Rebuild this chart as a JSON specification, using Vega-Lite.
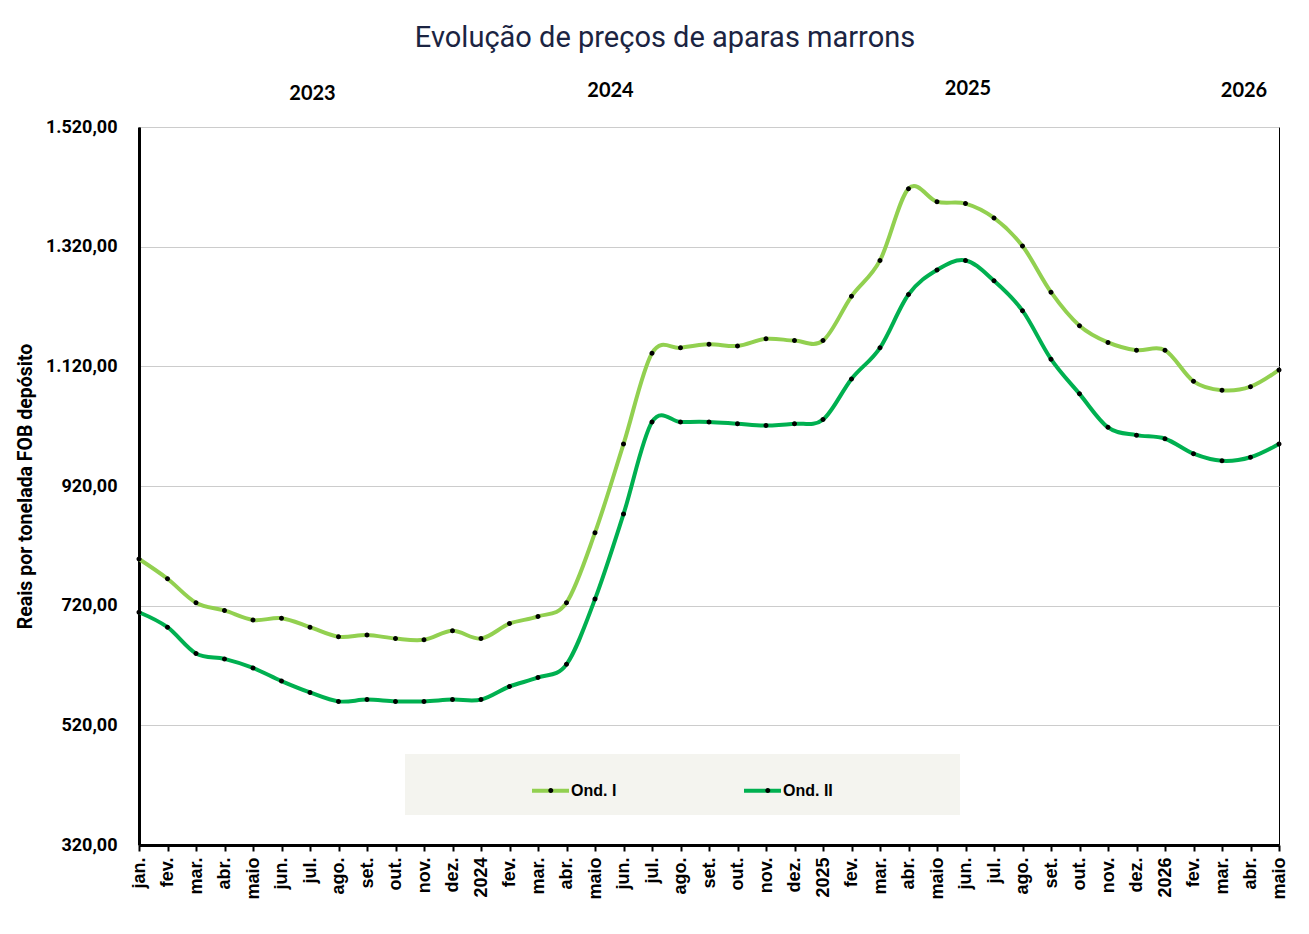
{
  "$schema": "https://vega.github.io/schema/vega-lite/v6.json",
  "width": 1140,
  "height": 718,
  "autosize": {"type": "none"},
  "padding": {"left": 139, "top": 127, "right": 30, "bottom": 89},
  "background": "white",
  "config": {
    "locale": {"number": {"decimal": ",", "thousands": ".", "grouping": [3], "currency": ["R$", ""]}},
    "view": {"stroke": "black", "strokeWidth": 1}
  },
  "title": {
    "text": "Evolução de preços de aparas marrons",
    "font": "Roboto",
    "fontSize": 29,
    "fontWeight": "normal",
    "color": "#1b2442",
    "anchor": "middle",
    "dx": -44,
    "offset": 25
  },
  "data": {
    "values": [
      {"mes": "2023-01", "serie": "Ond. I", "valor": 798},
      {"mes": "2023-02", "serie": "Ond. I", "valor": 765},
      {"mes": "2023-03", "serie": "Ond. I", "valor": 725},
      {"mes": "2023-04", "serie": "Ond. I", "valor": 712},
      {"mes": "2023-05", "serie": "Ond. I", "valor": 696},
      {"mes": "2023-06", "serie": "Ond. I", "valor": 699},
      {"mes": "2023-07", "serie": "Ond. I", "valor": 684},
      {"mes": "2023-08", "serie": "Ond. I", "valor": 668},
      {"mes": "2023-09", "serie": "Ond. I", "valor": 671},
      {"mes": "2023-10", "serie": "Ond. I", "valor": 665},
      {"mes": "2023-11", "serie": "Ond. I", "valor": 663},
      {"mes": "2023-12", "serie": "Ond. I", "valor": 678},
      {"mes": "2024-01", "serie": "Ond. I", "valor": 665},
      {"mes": "2024-02", "serie": "Ond. I", "valor": 690},
      {"mes": "2024-03", "serie": "Ond. I", "valor": 702},
      {"mes": "2024-04", "serie": "Ond. I", "valor": 725},
      {"mes": "2024-05", "serie": "Ond. I", "valor": 842},
      {"mes": "2024-06", "serie": "Ond. I", "valor": 990},
      {"mes": "2024-07", "serie": "Ond. I", "valor": 1142},
      {"mes": "2024-08", "serie": "Ond. I", "valor": 1151},
      {"mes": "2024-09", "serie": "Ond. I", "valor": 1157},
      {"mes": "2024-10", "serie": "Ond. I", "valor": 1154},
      {"mes": "2024-11", "serie": "Ond. I", "valor": 1166},
      {"mes": "2024-12", "serie": "Ond. I", "valor": 1163},
      {"mes": "2025-01", "serie": "Ond. I", "valor": 1163},
      {"mes": "2025-02", "serie": "Ond. I", "valor": 1237},
      {"mes": "2025-03", "serie": "Ond. I", "valor": 1297},
      {"mes": "2025-04", "serie": "Ond. I", "valor": 1417},
      {"mes": "2025-05", "serie": "Ond. I", "valor": 1395},
      {"mes": "2025-06", "serie": "Ond. I", "valor": 1392},
      {"mes": "2025-07", "serie": "Ond. I", "valor": 1368},
      {"mes": "2025-08", "serie": "Ond. I", "valor": 1321},
      {"mes": "2025-09", "serie": "Ond. I", "valor": 1244},
      {"mes": "2025-10", "serie": "Ond. I", "valor": 1188},
      {"mes": "2025-11", "serie": "Ond. I", "valor": 1160},
      {"mes": "2025-12", "serie": "Ond. I", "valor": 1147},
      {"mes": "2026-01", "serie": "Ond. I", "valor": 1147},
      {"mes": "2026-02", "serie": "Ond. I", "valor": 1095},
      {"mes": "2026-03", "serie": "Ond. I", "valor": 1080},
      {"mes": "2026-04", "serie": "Ond. I", "valor": 1086},
      {"mes": "2026-05", "serie": "Ond. I", "valor": 1114},
      {"mes": "2023-01", "serie": "Ond. II", "valor": 709},
      {"mes": "2023-02", "serie": "Ond. II", "valor": 684},
      {"mes": "2023-03", "serie": "Ond. II", "valor": 640},
      {"mes": "2023-04", "serie": "Ond. II", "valor": 631},
      {"mes": "2023-05", "serie": "Ond. II", "valor": 616},
      {"mes": "2023-06", "serie": "Ond. II", "valor": 594},
      {"mes": "2023-07", "serie": "Ond. II", "valor": 575},
      {"mes": "2023-08", "serie": "Ond. II", "valor": 560},
      {"mes": "2023-09", "serie": "Ond. II", "valor": 563},
      {"mes": "2023-10", "serie": "Ond. II", "valor": 560},
      {"mes": "2023-11", "serie": "Ond. II", "valor": 560},
      {"mes": "2023-12", "serie": "Ond. II", "valor": 563},
      {"mes": "2024-01", "serie": "Ond. II", "valor": 563},
      {"mes": "2024-02", "serie": "Ond. II", "valor": 585},
      {"mes": "2024-03", "serie": "Ond. II", "valor": 600},
      {"mes": "2024-04", "serie": "Ond. II", "valor": 622},
      {"mes": "2024-05", "serie": "Ond. II", "valor": 731},
      {"mes": "2024-06", "serie": "Ond. II", "valor": 873},
      {"mes": "2024-07", "serie": "Ond. II", "valor": 1027},
      {"mes": "2024-08", "serie": "Ond. II", "valor": 1027},
      {"mes": "2024-09", "serie": "Ond. II", "valor": 1027},
      {"mes": "2024-10", "serie": "Ond. II", "valor": 1024},
      {"mes": "2024-11", "serie": "Ond. II", "valor": 1021},
      {"mes": "2024-12", "serie": "Ond. II", "valor": 1024},
      {"mes": "2025-01", "serie": "Ond. II", "valor": 1031},
      {"mes": "2025-02", "serie": "Ond. II", "valor": 1099},
      {"mes": "2025-03", "serie": "Ond. II", "valor": 1151},
      {"mes": "2025-04", "serie": "Ond. II", "valor": 1240},
      {"mes": "2025-05", "serie": "Ond. II", "valor": 1281},
      {"mes": "2025-06", "serie": "Ond. II", "valor": 1297},
      {"mes": "2025-07", "serie": "Ond. II", "valor": 1263},
      {"mes": "2025-08", "serie": "Ond. II", "valor": 1213},
      {"mes": "2025-09", "serie": "Ond. II", "valor": 1132},
      {"mes": "2025-10", "serie": "Ond. II", "valor": 1074},
      {"mes": "2025-11", "serie": "Ond. II", "valor": 1018},
      {"mes": "2025-12", "serie": "Ond. II", "valor": 1005},
      {"mes": "2026-01", "serie": "Ond. II", "valor": 999},
      {"mes": "2026-02", "serie": "Ond. II", "valor": 974},
      {"mes": "2026-03", "serie": "Ond. II", "valor": 962},
      {"mes": "2026-04", "serie": "Ond. II", "valor": 968},
      {"mes": "2026-05", "serie": "Ond. II", "valor": 990}
    ]
  },
  "layer": [
    {
      "mark": {"type": "line", "interpolate": "cardinal", "strokeWidth": 4},
      "encoding": {
        "x": {
          "field": "mes",
          "type": "ordinal",
          "scale": {"type": "point", "padding": 0},
          "axis": {
            "orient": "bottom",
            "title": null,
            "labelAngle": 270,
            "labelOverlap": false,
            "labelFont": "Liberation Sans",
            "labelFontSize": 18,
            "labelFontWeight": "bold",
            "labelColor": "black",
            "labelPadding": 6,
            "ticks": true,
            "tickSize": 6,
            "tickWidth": 2,
            "tickColor": "black",
            "domainColor": "black",
            "domainWidth": 3,
            "grid": false,
            "labelExpr": "datum.value == '2023-01' ? 'jan.' : slice(datum.value, 5) == '01' ? slice(datum.value, 0, 4) : ['jan.','fev.','mar.','abr.','maio','jun.','jul.','ago.','set.','out.','nov.','dez.'][toNumber(slice(datum.value, 5)) - 1]"
          }
        },
        "y": {
          "field": "valor",
          "type": "quantitative",
          "scale": {"domain": [320, 1520], "nice": false, "zero": false},
          "axis": {
            "values": [320, 520, 720, 920, 1120, 1320, 1520],
            "format": ",.2f",
            "labelFont": "Roboto",
            "labelFontSize": 18,
            "labelFontWeight": "bold",
            "labelColor": "black",
            "labelPadding": 22,
            "ticks": false,
            "tickSize": 0,
            "domainColor": "black",
            "domainWidth": 3,
            "grid": true,
            "gridColor": "#cccccc",
            "gridWidth": 1,
            "title": "Reais por tonelada FOB depósito",
            "titleFont": "Roboto",
            "titleFontSize": 19.5,
            "titleFontWeight": "bold",
            "titleColor": "black",
            "titlePadding": 10
          }
        },
        "color": {
          "field": "serie",
          "type": "nominal",
          "scale": {"domain": ["Ond. I", "Ond. II"], "range": ["#92d050", "#00b050"]},
          "legend": {
            "orient": "none",
            "legendX": 266,
            "legendY": 627,
            "direction": "horizontal",
            "title": "\u00a0",
            "titleOrient": "left",
            "titleFontSize": 1,
            "titlePadding": 109,
            "fillColor": "#f4f4ef",
            "padding": 16,
            "symbolType": "stroke",
            "symbolSize": 1369,
            "symbolStrokeWidth": 4,
            "labelFont": "Liberation Sans",
            "labelFontSize": 16,
            "labelFontWeight": "bold",
            "labelColor": "black",
            "labelOffset": 0,
            "columnPadding": 119,
            "zindex": 2
          }
        },
        "opacity": {
          "field": "serie",
          "type": "nominal",
          "sort": "descending",
          "scale": {"range": [1, 1]},
          "legend": {
            "orient": "none",
            "legendX": 649,
            "legendY": 627,
            "direction": "horizontal",
            "title": "\u00a0",
            "titleOrient": "right",
            "titleFontSize": 1,
            "titlePadding": 20,
            "fillColor": "#f4f4ef",
            "padding": 16,
            "symbolType": "stroke",
            "symbolSize": 1369,
            "symbolStrokeWidth": 4,
            "symbolStrokeColor": "transparent",
            "labelFont": "Liberation Sans",
            "labelFontSize": 16,
            "labelFontWeight": "bold",
            "labelExpr": "''",
            "labelOffset": 0,
            "columnPadding": 20,
            "zindex": 1,
            "encode": {"symbols": {"update": {"opacity": {"value": 0}, "stroke": {"value": "transparent"}}}}
          }
        }
      }
    },
    {
      "mark": {"type": "point", "filled": true, "color": "black", "opacity": 1, "size": 1369},
      "encoding": {
        "x": {
          "field": "mes",
          "type": "ordinal",
          "scale": {"type": "point", "padding": 0},
          "axis": {
            "orient": "top",
            "title": null,
            "values": ["2023-07", "2024-05", "2025-06", "2026-04"],
            "labelExpr": "slice(datum.value, 0, 4)",
            "labelAngle": 0,
            "labelOverlap": false,
            "labelFont": "Lato",
            "labelFontSize": 20,
            "labelFontWeight": "bold",
            "labelColor": "black",
            "labelOffset": {"condition": [{"test": "datum.value == '2024-05'", "value": 15}, {"test": "datum.value == '2026-04'", "value": -7}], "value": 2},
            "labelPadding": {"condition": [{"test": "datum.value == '2023-07'", "value": 24}, {"test": "datum.value == '2025-06'", "value": 29}], "value": 27},
            "ticks": false,
            "tickSize": 0,
            "domain": false,
            "grid": false
          }
        },
        "y": {"field": "valor", "type": "quantitative"},
        "shape": {
          "field": "serie",
          "type": "nominal",
          "scale": {"range": ["M-1,0L1,0M-0.135,0A0.135,0.135,0,1,1,0.135,0A0.135,0.135,0,1,1,-0.135,0Z", "M-1,0L1,0M-0.135,0A0.135,0.135,0,1,1,0.135,0A0.135,0.135,0,1,1,-0.135,0Z"]},
          "legend": {
            "orient": "none",
            "legendX": 391.3,
            "legendY": 643,
            "direction": "horizontal",
            "title": null,
            "padding": 0,
            "symbolSize": 1369,
            "symbolStrokeWidth": 4,
            "symbolStrokeColor": "transparent",
            "symbolFillColor": "black",
            "labelFont": "Liberation Sans",
            "labelFontSize": 16,
            "labelFontWeight": "bold",
            "labelExpr": "''",
            "labelOffset": 0,
            "columnPadding": 164,
            "zindex": 3
          }
        }
      }
    }
  ],
  "resolve": {"axis": {"x": "independent"}}
}
